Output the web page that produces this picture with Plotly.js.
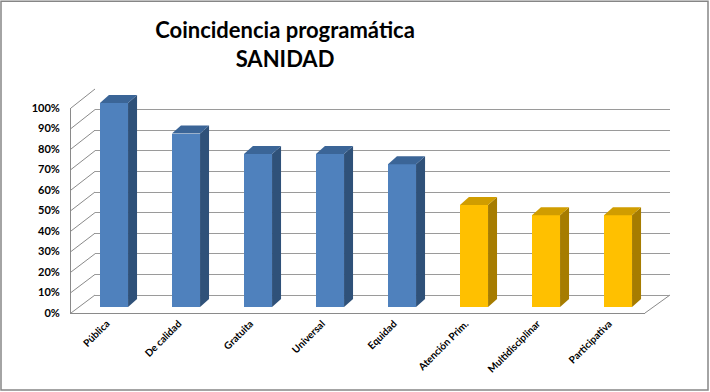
<!DOCTYPE html>
<html>
<head>
<meta charset="utf-8">
<script src="https://cdn.plot.ly/plotly-3.0.1.min.js"></script>
<style>html,body{margin:0;padding:0;background:#fff;}#chart{width:710px;height:392px;}</style>
</head>
<body>
<div id="chart"></div>
<script>
// ---- data ----
const categories = ['Pública', 'De calidad', 'Gratuita', 'Universal', 'Equidad', 'Atención Prim.', 'Multidisciplinar', 'Participativa'];
const values = [100, 85, 75, 75, 70, 50, 45, 45];
const groups = ['a', 'a', 'a', 'a', 'a', 'b', 'b', 'b'];
const yTicks = [0, 10, 20, 30, 40, 50, 60, 70, 80, 90, 100];
const titleText = 'Coincidencia programática<br>SANIDAD';

// ---- style ----
const W = 710, H = 392;
const palette = {
  a: {front: '#4f81bd', top: '#3b6597', side: '#2f5179'},
  b: {front: '#ffc000', top: '#d09d00', side: '#a67c00'}
};
const lineCol = '#8a8a8a';
const gridCol = '#9a9a9a';
const FONT = 'Lato, "Open Sans", sans-serif';
const px = x => x / W;
const py = y => 1 - y / H;

// plane geometry (pixels)
const front = {x0: 71, x1: 645, y0: 313, y1: 108};
const back = {x0: 95, x1: 670, y0: 295, y1: 89};
const barPlane = {x0: 78, x1: 654, y0: 307, y1: 103};
const depthDx = 9 / ((barPlane.x1 - barPlane.x0) / categories.length);
const depthDy = 8 / ((barPlane.y0 - barPlane.y1) / 100);
const barW = 0.39;

const idx = categories.map((c, i) => i);
const traces = [];

// invisible traces so the front and back axes render
traces.push({type: 'scatter', x: categories, y: values.map(() => 0), xaxis: 'x', yaxis: 'y',
  mode: 'markers', marker: {opacity: 0}, hoverinfo: 'skip', showlegend: false});
traces.push({type: 'scatter', x: [0, 1], y: [0, 100], xaxis: 'x2', yaxis: 'y2',
  mode: 'markers', marker: {opacity: 0}, hoverinfo: 'skip', showlegend: false});

// bar front faces
traces.push({type: 'bar', x: idx, y: values, xaxis: 'x3', yaxis: 'y3', width: barW,
  marker: {color: groups.map(g => palette[g].front), line: {width: 0}},
  hoverinfo: 'skip', showlegend: false});

// 3D faces derived from values
values.forEach((v, i) => {
  const xl = i - barW / 2, xr = i + barW / 2;
  const c = palette[groups[i]];
  traces.push({type: 'scatter', xaxis: 'x3', yaxis: 'y3', mode: 'lines', fill: 'toself',
    x: [xr, xr + depthDx, xr + depthDx, xr, xr],
    y: [0, depthDy, v + depthDy, v, 0],
    fillcolor: c.side, line: {width: 0, color: c.side}, cliponaxis: false, hoverinfo: 'skip', showlegend: false});
  traces.push({type: 'scatter', xaxis: 'x3', yaxis: 'y3', mode: 'lines', fill: 'toself',
    x: [xl, xl + depthDx, xr + depthDx, xr, xl],
    y: [v, v + depthDy, v + depthDy, v, v],
    fillcolor: c.top, line: {width: 0, color: c.top}, cliponaxis: false, hoverinfo: 'skip', showlegend: false});
});

// wall diagonals (left wall) and floor right edge
const shapes = [];
const yF = v => py(front.y0 - (front.y0 - front.y1) * v / 100);
const yB = v => py(back.y0 - (back.y0 - back.y1) * v / 100);
yTicks.forEach(v => {
  shapes.push({type: 'line', xref: 'paper', yref: 'paper', x0: px(front.x0), y0: yF(v), x1: px(back.x0), y1: yB(v),
    line: {color: lineCol, width: 1}, layer: 'below'});
});
shapes.push({type: 'line', xref: 'paper', yref: 'paper', x0: px(front.x1), y0: yF(0), x1: px(back.x1), y1: yB(0),
  line: {color: lineCol, width: 1}, layer: 'below'});
// chart border
shapes.push({type: 'rect', xref: 'paper', yref: 'paper', x0: px(1), y0: py(390), x1: px(708), y1: py(1.2),
  line: {color: '#868686', width: 1.5}, fillcolor: 'rgba(0,0,0,0)', layer: 'above'});

const layout = {
  width: W, height: H,
  margin: {l: 0, r: 0, t: 0, b: 0},
  paper_bgcolor: '#ffffff', plot_bgcolor: 'rgba(0,0,0,0)',
  showlegend: false,
  font: {family: FONT, color: '#000'},
  title: {text: '<b>' + titleText + '</b>', x: px(285), xanchor: 'center', y: py(38), yanchor: 'middle',
    font: {family: FONT, size: 22, color: '#000'}},
  xaxis: {domain: [px(front.x0), px(front.x1)], anchor: 'y', type: 'category', range: [-0.5, 7.5],
    showgrid: false, zeroline: false, showline: true, linecolor: lineCol, linewidth: 1,
    ticks: '', tickangle: -45, tickfont: {family: FONT, size: 10, color: '#000', weight: 'bold'},
    fixedrange: true},
  yaxis: {domain: [py(front.y0), py(front.y1)], anchor: 'x', range: [0, 100],
    tickvals: yTicks, ticktext: yTicks.map(t => t + '%'),
    showgrid: false, zeroline: false, showline: true, linecolor: lineCol, linewidth: 1,
    ticks: '', ticklabelstandoff: 8, tickfont: {family: FONT, size: 11, color: '#000', weight: 'bold'},
    fixedrange: true},
  xaxis2: {domain: [px(back.x0), px(back.x1)], anchor: 'y2', range: [0, 1],
    showgrid: false, zeroline: false, showline: false, showticklabels: false, ticks: ''},
  yaxis2: {domain: [py(back.y0), py(back.y1)], anchor: 'x2', range: [0, 100],
    tickvals: yTicks, showgrid: true, gridcolor: gridCol, gridwidth: 1,
    zeroline: true, zerolinecolor: gridCol, zerolinewidth: 1,
    showline: false, showticklabels: false, ticks: ''},
  xaxis3: {domain: [px(barPlane.x0), px(barPlane.x1)], anchor: 'y3', range: [-0.5, 7.5], visible: false},
  yaxis3: {domain: [py(barPlane.y0), py(barPlane.y1 - 20.4)], anchor: 'x3', range: [0, 110], visible: false},
  shapes: shapes,
  bargap: 0
};

Plotly.newPlot('chart', traces, layout, {displayModeBar: false, staticPlot: true});
</script>
</body>
</html>
